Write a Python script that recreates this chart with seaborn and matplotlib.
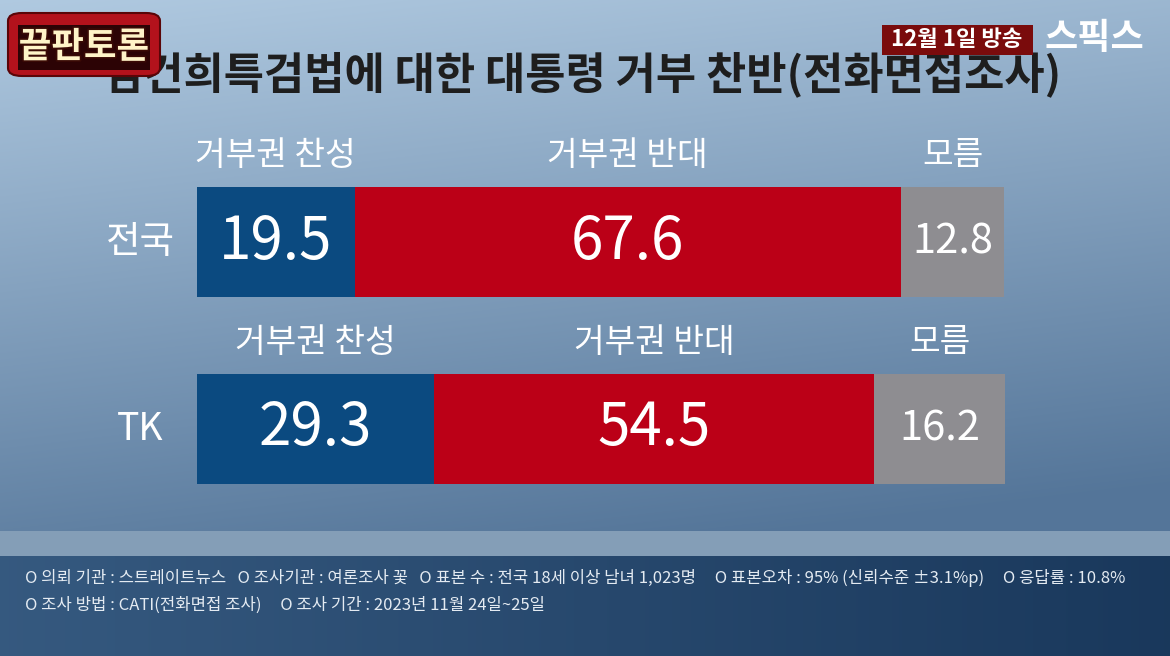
import numpy as np
import pandas as pd
import matplotlib
matplotlib.use("Agg")
import matplotlib.pyplot as plt
import matplotlib.patheffects as pe
from matplotlib.patches import FancyBboxPatch, Rectangle
import seaborn as sns

# ---------------- data ----------------
regions = ["전국", "TK"]
categories = ["거부권 찬성", "거부권 반대", "모름"]
favor = [19.5, 29.3]
oppose = [67.6, 54.5]
unknown = [12.8, 16.2]
title = "김건희특검법에 대한 대통령 거부 찬반(전화면접조사)"
footer_lines = [
    "O 의뢰 기관 : 스트레이트뉴스   O 조사기관 : 여론조사 꽃   O 표본 수 : 전국 18세 이상 남녀 1,023명     O 표본오차 : 95% (신뢰수준 ±3.1%p)     O 응답률 : 10.8%",
    "O 조사 방법 : CATI(전화면접 조사)     O 조사 기간 : 2023년 11월 24일~25일",
]
broadcast = "12월 1일 방송"
brand = "스픽스"
logo_text = "끝판토론"

colors = ["#0b4a80", "#bb0017", "#8e8d91"]

sns.set_theme(style="white")
plt.rcParams["font.family"] = ["Noto Sans CJK KR", "DejaVu Sans"]

W, H = 1170, 656
fig = plt.figure(figsize=(W / 100, H / 100), dpi=100)

def fx(x):
    return x / W

def fy(y):
    return 1 - y / H

# ---------------- background ----------------
bg = fig.add_axes([0, 0, 1, 1], zorder=-10)
yy, xx = np.mgrid[0:H, 0:W]
top = np.array([0.69, 0.79, 0.88])
bot = np.array([0.33, 0.46, 0.60])
t = np.clip(yy / 530.0, 0, 1)[..., None] * 0.85 + (xx / W)[..., None] * 0.22
t = np.clip(t, 0, 1)
img = top * (1 - t) + bot * t
band = (yy >= 531) & (yy < 556)
img[band] = np.array([0.52, 0.62, 0.72])
foot = yy >= 556
ft = (xx / W)
fl = np.array([0.21, 0.35, 0.50])
fr = np.array([0.10, 0.22, 0.36])
fimg = fl * (1 - ft[..., None]) + fr * ft[..., None]
img[foot] = fimg[foot]
bg.imshow(img, extent=[0, W, H, 0], aspect="auto")
bg.set_axis_off()

# ---------------- main stacked bars ----------------
ax = fig.add_axes([fx(197), fy(522.5), 808 / W, 374 / H])
ax.set_facecolor("none")
df = pd.DataFrame({"region": regions, "favor": favor, "oppose": oppose, "unknown": unknown})
df["c1"] = df["favor"]
df["c2"] = df["favor"] + df["oppose"]
df["c3"] = df["c2"] + df["unknown"]

for col, color in zip(["c3", "c2", "c1"], colors[::-1]):
    sns.barplot(data=df, x=col, y="region", orient="h", color=color,
                width=0.59, ax=ax, saturation=1, edgecolor="none")

ax.set_xlim(0, df["c3"].max())
ax.set_ylim(1.5, -0.5)
ax.set_axis_off()

for i, r in df.iterrows():
    starts = [0, r["c1"], r["c2"]]
    vals = [r["favor"], r["oppose"], r["unknown"]]
    for j, (s, v) in enumerate(zip(starts, vals)):
        cx = s + v / 2
        ax.text(cx, i, f"{v:.1f}", ha="center", va="center", color="white",
                fontsize=42 if j < 2 else 30)
        ax.text(cx, i - 0.295 - 0.165, categories[j], ha="center", va="center",
                color="white", fontsize=24)
    ax.text(-0.07, i, r["region"], transform=ax.get_yaxis_transform(),
            ha="center", va="center", color="white", fontsize=27)

# ---------------- title ----------------
fig.text(fx(582), fy(74), title, ha="center", va="center", fontsize=31.5,
         fontweight="black", color="#1e1e1e")

# ---------------- logo ----------------
logo_outer = FancyBboxPatch((fx(8), fy(76)), fx(152), 63 / H,
                            boxstyle="round,pad=0,rounding_size=0.012",
                            transform=fig.transFigure, facecolor="#b3121c",
                            edgecolor="#5a0508", linewidth=1.5, zorder=5)
fig.patches.append(logo_outer)
logo_inner = Rectangle((fx(18), fy(70)), fx(132), 45 / H, transform=fig.transFigure,
                       facecolor="#2c0305", edgecolor="none", zorder=6)
fig.patches.append(logo_inner)
fig.text(fx(84), fy(47), logo_text, ha="center", va="center", fontsize=25.5,
         fontweight="black", color="#fff4c8", zorder=7,
         path_effects=[pe.withStroke(linewidth=2.5, foreground="#3a0a05")])

# ---------------- top right ----------------
date_box = Rectangle((fx(882), fy(55)), fx(151), 30 / H, transform=fig.transFigure,
                     facecolor="#7a0b0c", edgecolor="none", zorder=5)
fig.patches.append(date_box)
fig.text(fx(957), fy(40), broadcast, ha="center", va="center", fontsize=16,
         fontweight="bold", color="white", zorder=6)
fig.text(fx(1094), fy(38), brand, ha="center", va="center", fontsize=26,
         fontweight="black", color="white", zorder=6)

# ---------------- footer ----------------
fig.text(fx(25), fy(578), footer_lines[0], ha="left", va="center", fontsize=12,
         color="#e4ebf2", fontweight="light")
fig.text(fx(25), fy(605), footer_lines[1], ha="left", va="center", fontsize=12,
         color="#e4ebf2", fontweight="light")

fig.savefig("out.png", dpi=100)
